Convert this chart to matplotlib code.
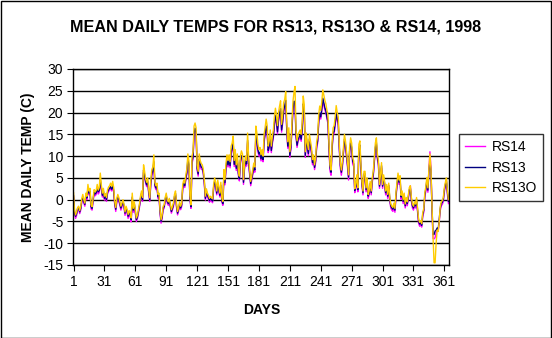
import matplotlib
matplotlib.use("Agg")
import matplotlib.pyplot as plt
from matplotlib.patches import Rectangle

plt.rcParams['font.family'] = ['Liberation Sans', 'DejaVu Sans']

days = list(range(1, 366))

rs13o = [
    1.6, -2.4, -3.5, -2.8, -1.8, -1.5, -2.5, -1.6, 0.2, 1.2,
    0.0, -0.8, 1.5, 0.8, 3.5, 2.0, 2.6, -1.2, -1.6, 0.4,
    2.3, 1.8, 2.1, 3.5, 2.2, 2.8, 6.1, 3.4, 1.5, 2.6,
    0.8, 1.4, 0.5, 2.2, 2.9, 3.2, 3.8, 3.0, 4.2, 2.8,
    -0.4, -1.8, 0.3, 1.2, 0.5, -0.5, -1.5, -0.8, 0.0, -1.0,
    -2.8, -1.5, -2.2, -3.4, -2.5, -3.0, -4.2, 1.5, -2.0, -0.5,
    -2.3, -4.2, -3.6, -2.3, -1.0, 0.8, 2.0, 0.5, 8.0, 6.5,
    4.8, 4.0, 5.0, 2.3, 0.4, 4.5, 6.9, 7.5, 10.3, 4.0,
    3.2, 3.8, 1.2, 1.5, -2.3, -4.6, -3.5, -1.5, -1.2, 0.5,
    1.5, 0.0, -0.5, 0.3, -1.0, -2.3, -1.6, -0.8, 1.2, 2.0,
    -1.0, -2.7, -1.8, -0.5, -1.5, -0.8, 3.5, 4.5, 3.8, 5.7,
    7.0, 10.5, 9.0, 1.0, -1.2, 10.0, 11.0, 16.9, 17.6, 16.5,
    8.0, 6.5, 10.5, 9.0, 8.3, 8.0, 7.0, 4.6, 0.8, 2.5,
    1.5, 1.0, 0.3, 0.8, 0.5, 0.2, 3.5, 5.0, 4.0, 2.0,
    4.5, 3.0, 1.5, 4.0, 0.3, -0.4, 6.9, 4.6, 8.4, 10.3,
    9.0, 10.3, 8.7, 12.3, 13.0, 14.6, 9.0, 11.5, 8.0, 10.5,
    6.9, 5.4, 10.0, 11.2, 10.5, 4.6, 8.4, 10.0, 9.0, 15.3,
    9.5, 6.9, 4.2, 5.5, 7.0, 8.4, 7.5, 16.9, 15.3, 12.7,
    11.5, 12.0, 10.3, 11.5, 10.0, 15.0, 16.6, 18.5, 17.0, 12.3,
    13.5, 16.0, 12.3, 14.5, 16.0, 19.0, 21.0, 19.5, 17.0, 20.0,
    21.5, 22.7, 17.3, 19.5, 22.3, 23.0, 24.8, 17.7, 13.3, 16.5,
    11.0, 13.0, 17.5, 22.5, 24.6, 26.0, 16.0, 13.5, 15.0, 15.5,
    16.0, 15.0, 17.7, 23.8, 21.8, 11.0, 15.3, 13.0, 11.5, 15.0,
    13.5, 12.0, 9.2, 10.3, 8.0, 9.6, 13.3, 14.6, 19.5, 21.5,
    20.5, 22.5, 25.2, 24.0, 22.8, 22.0, 20.5, 19.5, 13.0, 8.0,
    6.8, 13.0, 16.5, 17.0, 19.0, 21.6, 20.0, 19.0, 13.0, 8.5,
    6.8, 8.7, 12.0, 15.0, 13.5, 11.2, 8.7, 5.7, 12.0, 14.2,
    13.0, 9.6, 8.9, 2.5, 3.5, 5.7, 2.7, 12.7, 13.5, 8.0,
    4.2, 2.0, 6.5, 6.5, 2.7, 5.0, 1.2, 2.0, 4.2, 2.0,
    5.0, 6.5, 9.6, 13.0, 14.2, 10.5, 9.0, 3.5, 5.7, 8.5,
    3.5, 5.7, 4.2, 2.0, 3.5, 1.2, 3.8, 0.5, -1.0, -1.5,
    -1.8, -0.8, -2.0, 1.5, 4.0, 6.1, 4.5, 5.5, 1.0, 2.0,
    0.0, 1.5, -1.0, 0.5, -0.5, 1.0, 2.8, 3.2, 0.5, -1.0,
    -1.5, -0.5, -1.0, 0.5, -2.0, -4.5, -5.2, -4.8, -5.5, -3.0,
    -2.0, 1.5, 3.0, 5.1, 2.7, 7.0, 10.5, 7.0, -1.5, -8.6,
    -14.5, -14.5, -10.0, -7.0, -7.3, -5.0, -1.6, -0.5, -0.2, 0.5,
    2.8, 4.0, 5.0, 2.0, 0.0,
]

rs13 = [
    0.9, -2.9, -3.8, -3.2, -2.0, -1.9, -2.8, -2.0, -0.3, 0.6,
    -0.4, -1.1, 0.9, 0.4, 2.6, 1.5, 2.0, -1.6, -2.0, 0.0,
    1.7, 1.3, 1.6, 2.7, 1.8, 2.1, 4.6, 2.8, 1.0, 2.0,
    0.3, 0.9, 0.0, 1.7, 2.3, 2.6, 3.0, 2.4, 3.4, 2.1,
    -0.8, -2.2, -0.2, 0.7, 0.0, -0.9, -1.9, -1.2, -0.4, -1.4,
    -3.1, -1.9, -2.6, -3.8, -2.9, -3.4, -4.6, 0.6, -2.4, -0.9,
    -2.7, -4.6, -4.0, -2.7, -1.4, 0.3, 1.4, 0.0, 6.8, 5.6,
    4.2, 3.4, 4.3, 1.8, 0.0, 3.8, 6.0, 6.6, 8.7, 3.4,
    2.7, 3.2, 0.7, 1.0, -2.7, -5.0, -3.9, -1.9, -1.6, 0.1,
    1.0, -0.4, -0.9, -0.1, -1.4, -2.7, -2.0, -1.2, 0.7, 1.4,
    -1.4, -3.1, -2.2, -0.9, -1.9, -1.2, 2.8, 3.8, 3.2, 4.9,
    6.2, 9.2, 8.1, 0.5, -1.6, 8.8, 9.8, 15.2, 16.4, 15.3,
    7.2, 5.9, 9.3, 8.2, 7.5, 7.3, 6.3, 3.9, 0.3, 1.9,
    1.0, 0.5, -0.2, 0.3, 0.0, -0.3, 2.8, 4.2, 3.4, 1.5,
    3.8, 2.4, 1.0, 3.3, -0.2, -0.9, 5.8, 3.9, 7.4, 9.0,
    8.0, 9.2, 7.8, 11.0, 11.8, 13.0, 8.1, 10.3, 7.2, 9.4,
    6.1, 4.8, 9.0, 10.1, 9.5, 4.0, 7.6, 9.0, 8.2, 13.6,
    8.6, 6.1, 3.7, 4.9, 6.2, 7.6, 6.8, 15.0, 13.8, 11.5,
    10.5, 10.9, 9.4, 10.4, 9.2, 13.6, 15.2, 16.9, 15.6, 11.3,
    12.4, 14.6, 11.3, 13.3, 14.7, 17.4, 19.3, 18.0, 15.6, 18.4,
    19.8, 20.9, 16.0, 18.0, 20.6, 21.5, 22.8, 16.4, 12.3, 15.2,
    10.2, 12.0, 16.2, 20.8, 22.6, 22.5, 14.8, 12.5, 13.9, 14.4,
    14.8, 13.9, 16.4, 22.0, 20.2, 10.2, 14.2, 12.1, 10.6, 13.9,
    12.5, 11.1, 8.5, 9.5, 7.4, 8.9, 12.3, 13.5, 18.0, 19.9,
    19.0, 20.8, 23.3, 22.2, 21.1, 20.4, 19.0, 18.0, 12.0, 7.4,
    6.3, 12.0, 15.3, 15.7, 17.6, 20.0, 18.5, 17.6, 12.0, 7.9,
    6.3, 8.0, 11.1, 13.9, 12.5, 10.4, 8.0, 5.2, 11.1, 13.1,
    12.0, 8.9, 8.2, 2.1, 3.0, 5.2, 2.3, 11.8, 12.5, 7.4,
    3.7, 1.6, 5.9, 5.9, 2.3, 4.5, 0.8, 1.6, 3.7, 1.6,
    4.5, 5.9, 8.8, 12.0, 13.1, 9.7, 8.3, 3.1, 5.2, 7.8,
    3.1, 5.1, 3.7, 1.6, 3.0, 0.8, 3.3, 0.1, -1.4, -1.9,
    -2.2, -1.2, -2.4, 1.0, 3.4, 5.4, 4.0, 4.9, 0.6, 1.5,
    -0.4, 1.0, -1.4, 0.1, -0.9, 0.6, 2.3, 2.6, 0.1, -1.4,
    -1.9, -0.9, -1.4, 0.1, -2.4, -4.9, -5.6, -5.2, -5.9, -3.4,
    -2.4, 1.0, 2.5, 4.4, 2.2, 6.5, 9.0, 6.4, -1.9, -8.0,
    -8.0, -7.2, -7.0, -6.5, -6.8, -4.6, -2.0, -0.9, -0.6, 0.1,
    2.3, 3.5, 4.4, 1.6, -0.4,
]

rs14 = [
    0.6, -3.3, -4.3, -3.6, -2.4, -2.2, -3.2, -2.4, -0.6, 0.3,
    -0.8, -1.5, 0.5, 0.0, 2.2, 1.1, 1.6, -2.1, -2.4, -0.4,
    1.3, 0.9, 1.2, 2.3, 1.3, 1.7, 4.2, 2.4, 0.6, 1.6,
    -0.1, 0.5, -0.4, 1.3, 1.9, 2.2, 2.6, 2.0, 3.0, 1.7,
    -1.2, -2.7, -0.6, 0.3, -0.4, -1.3, -2.4, -1.6, -0.8, -1.8,
    -3.6, -2.3, -3.0, -4.3, -3.3, -3.8, -5.1, 0.2, -2.9, -1.3,
    -3.1, -5.0, -4.4, -3.1, -1.8, -0.1, 1.0, -0.4, 6.3, 5.1,
    3.8, 3.0, 3.9, 1.4, -0.4, 3.4, 5.6, 6.2, 8.2, 3.0,
    2.3, 2.8, 0.3, 0.6, -3.2, -5.4, -4.3, -2.3, -2.0, -0.3,
    0.6, -0.8, -1.3, -0.5, -1.8, -3.1, -2.4, -1.6, 0.3, 1.0,
    -1.8, -3.5, -2.6, -1.3, -2.3, -1.6, 2.4, 3.4, 2.8, 4.5,
    5.8, 8.7, 7.6, 0.1, -2.0, 8.3, 9.3, 14.7, 15.8, 14.8,
    6.8, 5.4, 8.8, 7.7, 7.0, 6.9, 5.9, 3.4, -0.1, 1.5,
    0.6, 0.1, -0.6, -0.1, -0.4, -0.7, 2.4, 3.8, 3.0, 1.1,
    3.4, 2.0, 0.6, 2.9, -0.6, -1.3, 5.3, 3.4, 6.9, 8.5,
    7.5, 8.7, 7.3, 10.5, 11.3, 12.5, 7.6, 9.8, 6.7, 8.9,
    5.6, 4.3, 8.5, 9.6, 9.0, 3.5, 7.1, 8.5, 7.7, 13.1,
    8.1, 5.6, 3.2, 4.4, 5.7, 7.1, 6.3, 14.5, 13.3, 11.0,
    10.0, 10.4, 8.9, 9.9, 8.7, 13.1, 14.7, 16.4, 15.1, 10.8,
    11.9, 14.1, 10.8, 12.8, 14.2, 16.9, 18.8, 17.5, 15.1, 17.9,
    19.3, 20.4, 15.5, 17.5, 20.1, 21.0, 22.3, 15.9, 11.8, 14.7,
    9.7, 11.5, 15.7, 20.3, 22.1, 22.0, 14.3, 12.0, 13.4, 13.9,
    14.3, 13.4, 15.9, 21.5, 19.7, 9.7, 13.7, 11.6, 10.1, 13.4,
    12.0, 10.6, 8.0, 9.0, 6.9, 8.4, 11.8, 13.0, 17.5, 19.4,
    18.5, 20.3, 22.8, 21.7, 20.6, 19.9, 18.5, 17.5, 11.5, 6.6,
    5.6, 11.5, 14.8, 15.2, 17.1, 19.5, 18.0, 17.1, 11.5, 7.2,
    5.6, 7.4, 10.6, 13.4, 12.0, 9.9, 7.4, 4.5, 10.6, 12.6,
    11.5, 8.2, 7.6, 1.6, 2.5, 4.7, 1.8, 11.3, 12.0, 6.7,
    3.2, 1.1, 5.4, 5.4, 1.8, 4.0, 0.3, 1.1, 3.2, 1.1,
    4.0, 5.4, 8.3, 11.5, 12.6, 9.2, 7.8, 2.6, 4.7, 7.3,
    2.6, 4.6, 3.2, 1.1, 2.5, 0.3, 2.8, -0.4, -1.9, -2.4,
    -2.7, -1.7, -2.9, 0.5, 2.9, 4.9, 3.5, 4.4, 0.1, 1.0,
    -0.9, 0.5, -1.9, -0.4, -1.4, 0.1, 1.8, 3.2, -0.4, -1.9,
    -2.4, -1.4, -1.9, -0.4, -2.9, -5.4, -6.1, -5.7, -6.3, -3.9,
    -2.9, 0.5, 2.0, 3.9, 1.7, 6.9, 11.0, 7.2, -2.3, -8.9,
    -9.0, -8.7, -7.6, -7.0, -7.3, -5.1, -2.5, -1.4, -1.1, -0.4,
    1.8, 3.0, 3.9, 1.1, -0.9,
]

series_names = ["RS14", "RS13", "RS13O"]
series_colors = ["#FF00FF", "#000080", "#FFCC00"]
xtick_days = [1, 31, 61, 91, 121, 151, 181, 211, 241, 271, 301, 331, 361]
yticks = [-15, -10, -5, 0, 5, 10, 15, 20, 25, 30]

W, H = 552, 338
fig = plt.figure(figsize=(W / 100, H / 100), dpi=100)
fig.patch.set_facecolor("white")
fig.patches.append(Rectangle((0.5 / W, 0.5 / H), (W - 1.5) / W, (H - 1.5) / H,
                             transform=fig.transFigure, fill=False,
                             edgecolor="black", linewidth=1.0))

ax = fig.add_axes([73 / W, 1 - 265 / H, (449 - 73) / W, (265 - 69) / H])
for name, vals, col in zip(series_names, [rs14, rs13, rs13o], series_colors):
    ax.plot(days, vals, color=col, linewidth=1.0, label=name)

ax.set_xlim(0.5, 365.5)
ax.set_ylim(-15, 30)
ax.set_yticks(yticks)
ax.set_yticklabels([str(v) for v in yticks], fontsize=10)
ax.set_xticks(xtick_days)
ax.set_xticklabels([str(d) for d in xtick_days], fontsize=10)
ax.tick_params(axis="both", direction="out", length=4, width=0.8, color="black", pad=3)
ax.yaxis.grid(True, color="black", linewidth=1.0)
ax.set_axisbelow(True)
for s in ax.spines.values():
    s.set_color("black")
    s.set_linewidth(1.0)

fig.text(276 / W, 1 - 27 / H, "MEAN DAILY TEMPS FOR RS13, RS13O & RS14, 1998",
         ha="center", va="center", fontsize=11.6, fontweight="bold")
fig.text(262 / W, 1 - 310 / H, "DAYS", ha="center", va="center",
         fontsize=10, fontweight="bold")
fig.text(28 / W, 1 - 167 / H, "MEAN DAILY TEMP (C)", ha="center", va="center",
         rotation=90, fontsize=10, fontweight="bold")

leg = ax.legend(loc="upper left", bbox_to_anchor=(459 / W, 1 - 134 / H),
                bbox_transform=fig.transFigure, fontsize=10, frameon=True,
                fancybox=False, edgecolor="black", handlelength=1.4,
                borderpad=0.45, labelspacing=0.45, handletextpad=0.5,
                borderaxespad=0.0)
leg.get_frame().set_linewidth(1.0)

fig.savefig("out.png", dpi=100)
